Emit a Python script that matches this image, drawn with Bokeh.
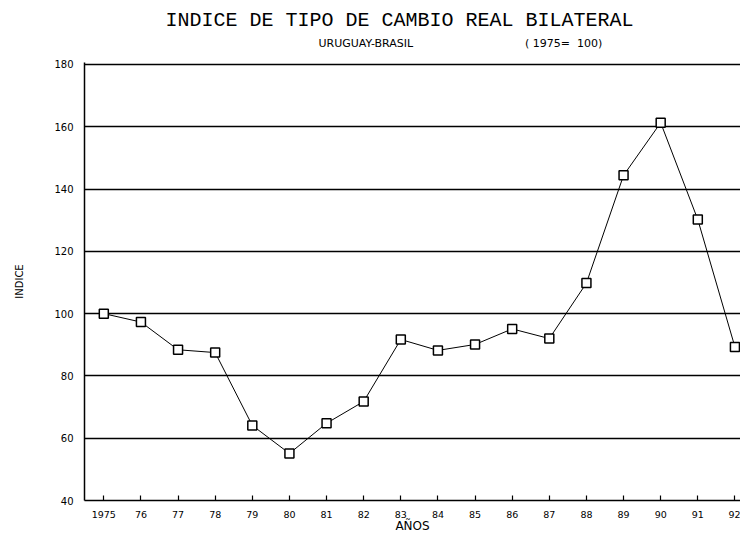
from bokeh.plotting import figure
from bokeh.models import Range1d, FixedTicker, Title, ColumnDataSource
from bokeh.embed import file_html
from bokeh.resources import INLINE

years = list(range(1975, 1993))
indice = [100, 97.3, 88.4, 87.5, 64.1, 55.1, 64.8, 71.8, 91.7, 88.2,
          90.1, 95.1, 92.0, 109.8, 144.4, 161.3, 130.2, 89.3]
x_tick_labels = ["1975", "76", "77", "78", "79", "80", "81", "82", "83",
                 "84", "85", "86", "87", "88", "89", "90", "91", "92"]
y_ticks = [40, 60, 80, 100, 120, 140, 160, 180]

title_text = "INDICE DE TIPO DE CAMBIO REAL BILATERAL"
subtitle_text = "URUGUAY-BRASIL" + "\u00a0" * 32 + "(\u00a01975=\u00a0\u00a0100)"

src = ColumnDataSource(dict(x=years, y=indice))

p = figure(width=740, height=535, output_backend="svg", toolbar_location=None,
           x_range=Range1d(1974.48, 1992.15), y_range=Range1d(40, 180.64),
           min_border_left=84, min_border_right=0, min_border_top=62,
           min_border_bottom=35)
p.outline_line_color = None
p.background_fill_color = "white"
p.border_fill_color = "white"

# grid
p.xgrid.grid_line_color = None
p.ygrid.ticker = FixedTicker(ticks=y_ticks)
p.ygrid.grid_line_color = "black"
p.ygrid.grid_line_width = 1.5

# x axis
p.xaxis.ticker = FixedTicker(ticks=years)
p.xaxis.major_label_overrides = {y: l for y, l in zip(years, x_tick_labels)}
p.xaxis.major_tick_in = 5
p.xaxis.major_tick_out = 0
p.xaxis.minor_tick_line_color = None
p.xaxis.axis_line_color = "black"
p.xaxis.axis_line_width = 1.5
p.xaxis.major_tick_line_color = "black"
p.xaxis.major_tick_line_width = 1.2
p.xaxis.major_label_text_font = "DejaVu Sans"
p.xaxis.major_label_text_font_size = "9.5px"
p.xaxis.major_label_text_color = "black"
p.xaxis.major_label_standoff = 10
p.xaxis.axis_label = "AÑOS"
p.xaxis.axis_label_text_font = "DejaVu Sans"
p.xaxis.axis_label_text_font_size = "12px"
p.xaxis.axis_label_text_font_style = "normal"
p.xaxis.axis_label_text_color = "black"
p.xaxis.axis_label_standoff = -2

# y axis
p.yaxis.ticker = FixedTicker(ticks=y_ticks)
p.yaxis.major_tick_in = 0
p.yaxis.major_tick_out = 0
p.yaxis.minor_tick_line_color = None
p.yaxis.axis_line_color = "black"
p.yaxis.axis_line_width = 1.5
p.yaxis.major_label_text_font = "DejaVu Sans"
p.yaxis.major_label_text_font_size = "10px"
p.yaxis.major_label_text_color = "black"
p.yaxis.major_label_standoff = 11
p.yaxis.axis_label = "INDICE"
p.yaxis.axis_label_text_font = "DejaVu Sans"
p.yaxis.axis_label_text_font_size = "10px"
p.yaxis.axis_label_text_font_style = "normal"
p.yaxis.axis_label_text_color = "black"
p.yaxis.axis_label_standoff = 26

# data
p.line("x", "y", source=src, line_color="black", line_width=1)
p.scatter("x", "y", source=src, marker="square", size=9, fill_color="white",
          line_color="black", line_width=1.5)

# titles (subtitle first -> nearest the frame)
p.add_layout(Title(text=subtitle_text, align="left", offset=234,
                   text_font="DejaVu Sans", text_font_size="11px",
                   text_font_style="normal", text_color="black",
                   standoff=25), "above")
p.add_layout(Title(text=title_text, align="left", offset=81,
                   text_font="Liberation Mono", text_font_size="20px",
                   text_font_style="normal", text_color="black",
                   standoff=-18), "above")

open("out.html", "w").write(file_html(p, INLINE))
